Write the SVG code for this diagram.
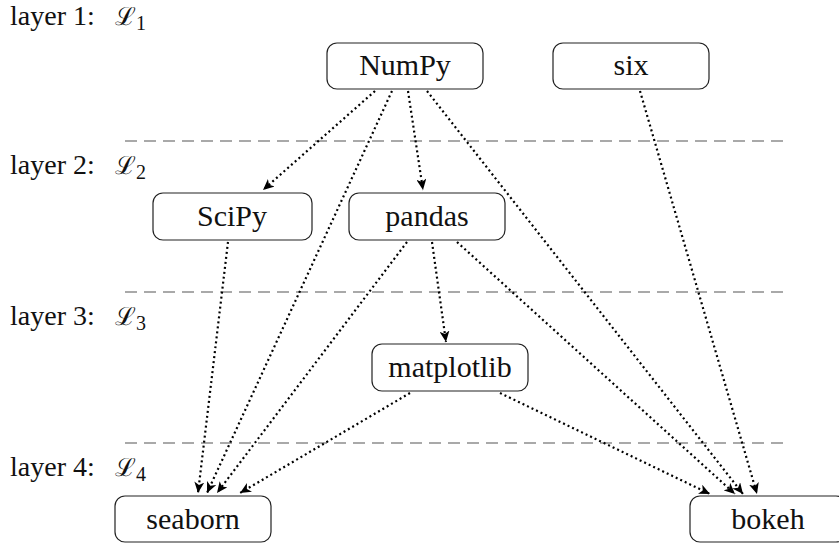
<svg xmlns="http://www.w3.org/2000/svg" width="839" height="546" viewBox="0 0 839 546">
<defs>
<style>
.bg{fill:#fff}
.node rect{fill:#fff;stroke:#222;stroke-width:1.2}
.node text{font-family:"Liberation Serif",serif;font-size:30px;fill:#111;text-anchor:middle}
.lbl{font-family:"Liberation Serif",serif;font-size:28px;fill:#111}
.cal{font-family:"DejaVu Serif",serif;font-size:25px}
.sub{font-family:"Liberation Serif",serif;font-size:20px}
.sep{stroke:#555;stroke-width:1.2;stroke-dasharray:12 7;fill:none}
.edge{stroke:#000;stroke-width:2.2;stroke-dasharray:2 3;fill:none;marker-end:url(#arr)}
</style>
<marker id="arr" markerUnits="userSpaceOnUse" markerWidth="12" markerHeight="10" refX="11" refY="5" orient="auto">
<path d="M0,0 L11,5 L0,10 L3,5 z" fill="#000"/>
</marker>
</defs>
<rect class="bg" width="839" height="546"/>
<g id="separators">
<line class="sep" x1="125" y1="141" x2="783" y2="141"/>
<line class="sep" x1="125" y1="292" x2="783" y2="292"/>
<line class="sep" x1="125" y1="443" x2="783" y2="443"/>
</g>
<g id="layer-labels">
<text class="lbl" x="10" y="25">layer 1:<tspan class="cal" x="115">ℒ</tspan><tspan class="sub" dy="5">1</tspan></text>
<text class="lbl" x="10" y="174">layer 2:<tspan class="cal" x="115">ℒ</tspan><tspan class="sub" dy="5">2</tspan></text>
<text class="lbl" x="10" y="325">layer 3:<tspan class="cal" x="115">ℒ</tspan><tspan class="sub" dy="5">3</tspan></text>
<text class="lbl" x="10" y="476">layer 4:<tspan class="cal" x="115">ℒ</tspan><tspan class="sub" dy="5">4</tspan></text>
</g>
<g id="connectors">
<line class="edge" x1="375" y1="91" x2="263" y2="190"/>
<line class="edge" x1="408" y1="91" x2="423" y2="190"/>
<line class="edge" x1="392" y1="91" x2="207" y2="493"/>
<line class="edge" x1="427" y1="91" x2="743" y2="494"/>
<line class="edge" x1="640" y1="91" x2="757" y2="494"/>
<line class="edge" x1="228" y1="242" x2="198" y2="493"/>
<line class="edge" x1="407" y1="242" x2="217" y2="493"/>
<line class="edge" x1="432" y1="242" x2="446" y2="342"/>
<line class="edge" x1="457" y1="242" x2="735" y2="494"/>
<line class="edge" x1="410" y1="393" x2="240" y2="493"/>
<line class="edge" x1="500" y1="393" x2="710" y2="494"/>
</g>
<g id="numpy" class="node"><rect x="327" y="43" width="156" height="46" rx="10"/><text x="405" y="75">NumPy</text></g>
<g id="six" class="node"><rect x="553" y="43" width="156" height="46" rx="10"/><text x="631" y="75">six</text></g>
<g id="scipy" class="node"><rect x="153" y="193" width="159" height="47" rx="10"/><text x="232" y="226">SciPy</text></g>
<g id="pandas" class="node"><rect x="349" y="193" width="156" height="47" rx="10"/><text x="427" y="226">pandas</text></g>
<g id="matplotlib" class="node"><rect x="372" y="344" width="156" height="47" rx="10"/><text x="450" y="377">matplotlib</text></g>
<g id="seaborn" class="node"><rect x="115" y="496" width="156" height="46" rx="10"/><text x="193" y="529">seaborn</text></g>
<g id="bokeh" class="node"><rect x="690" y="496" width="156" height="46" rx="10"/><text x="768" y="529">bokeh</text></g>
</svg>
